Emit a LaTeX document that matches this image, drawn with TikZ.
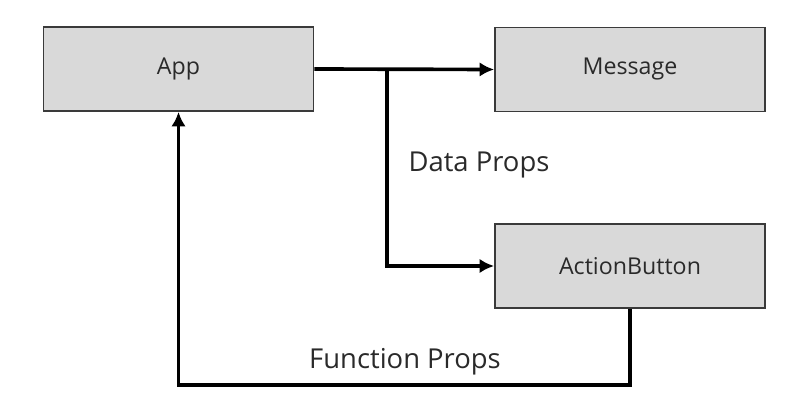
\documentclass[tikz,border=0pt]{standalone}
\usepackage{fontspec}
\setmainfont{Open Sans}
\usetikzlibrary{arrows.meta,positioning}

\definecolor{boxfill}{HTML}{D9D9D9}
\definecolor{boxline}{HTML}{3A3A3A}
\definecolor{txt}{HTML}{2A2A2A}

\begin{document}
\begin{tikzpicture}[x=0.025cm, y=-0.025cm,
    comp/.style={draw=boxline, line width=1.3pt, fill=boxfill, minimum width=6.75cm, minimum height=2.1cm, inner sep=0pt, text=txt, font=\fontsize{16.5}{20}\selectfont},
    conn/.style={line width=2.6pt, -{Latex[length=0.36cm, width=0.36cm]}},
    lbl/.style={text=txt, font=\fontsize{19.5}{23}\selectfont}]
  % 画布
  \useasboundingbox (0,0) rectangle (802,406);

  % 组件
  \node[comp] (app) at (178.5,69) {App};
  \node[comp] (msg) at (630,69.5) {Message};
  \node[comp] (btn) at (630,266) {ActionButton};

  % 标签
  \node[lbl] (data) at (479,165) {Data Props};
  \node[lbl] (func) at (405,362) {Function Props};

  % 数据流向子组件
  \coordinate (split) at (387,69);
  \coordinate (loop) at (630,385);
  \draw[conn] (app.east) -- (msg.west);
  \draw[conn] (split) |- (btn.west);

  % 函数回调
  \draw[conn] (btn.south) -- (loop) -| (app.south);
\end{tikzpicture}
\end{document}
